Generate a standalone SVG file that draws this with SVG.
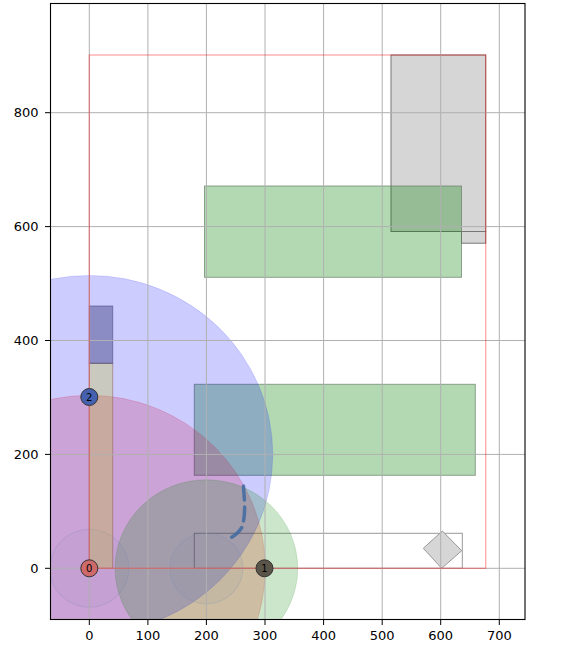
<svg xmlns="http://www.w3.org/2000/svg" width="561" height="653" viewBox="0 0 561 653">
<style>
.tick{font-family:"DejaVu Sans","Liberation Sans",sans-serif;font-size:13px;fill:#000}
.grid line{stroke:#b0b0b0;stroke-width:1}
.nl{font-family:"DejaVu Sans","Liberation Sans",sans-serif;font-size:10px;fill:#000;text-anchor:middle}
.node circle{stroke:#333;stroke-width:1}
.green{fill:rgb(0,128,0);fill-opacity:0.3;stroke:#6a7f6a;stroke-opacity:0.7;stroke-width:1}
.grayr{fill:#d6d6d6;stroke:#777;stroke-width:1}
</style>
<defs>
<clipPath id="ax"><rect x="50.5" y="3.5" width="474.5" height="616"/></clipPath>
</defs>
<rect width="561" height="653" fill="#fff"/>
<g clip-path="url(#ax)">
  <g id="obstacles">
    <rect id="grayA" class="grayr" x="391" y="55" width="94.7" height="176.5"/>
    <rect id="grayB" class="grayr" x="461.5" y="231.5" width="24.2" height="11.7"/>
    <rect id="greenTop" class="green" x="204.5" y="186" width="257" height="91.3"/>
    <rect id="greenMid" class="green" x="194.3" y="384.3" width="281" height="91"/>
    <rect id="outlineRect" x="194.3" y="533.3" width="268" height="35" fill="none" stroke="#999" stroke-width="1"/>
    <polygon id="diamond" points="442.3,531 461.7,550.7 441.7,568.3 423.3,548.3" fill="#d6d6d6" stroke="#999" stroke-width="1"/>
  </g>
  <g id="regions">
    <ellipse id="redCircle" cx="89.3" cy="568.3" rx="176" ry="173" fill="rgb(255,0,0)" fill-opacity="0.2" stroke="rgb(255,0,0)" stroke-opacity="0.15"/>
    <ellipse id="blueCircle" cx="89.3" cy="454.4" rx="183.5" ry="179" fill="rgb(0,0,255)" fill-opacity="0.2" stroke="rgb(0,0,255)" stroke-opacity="0.12"/>
    <ellipse id="greenCircle" cx="206.4" cy="568.3" rx="91.3" ry="88.5" fill="rgb(0,128,0)" fill-opacity="0.2" stroke="rgb(0,128,0)" stroke-opacity="0.15"/>
    <ellipse id="small0" cx="89.3" cy="568.3" rx="39.5" ry="39" fill="rgb(110,130,170)" fill-opacity="0.07" stroke="rgb(110,140,180)" stroke-opacity="0.25"/>
    <ellipse id="small1" cx="206.4" cy="568.3" rx="36.5" ry="35.5" fill="rgb(110,130,170)" fill-opacity="0.07" stroke="rgb(110,140,180)" stroke-opacity="0.25"/>
    <rect id="tallLow" x="89.3" y="363.3" width="23.4" height="205" fill="rgb(191,191,0)" fill-opacity="0.25" stroke="#8a5a50" stroke-opacity="0.5" stroke-width="1"/>
    <rect id="tallHigh" x="89.3" y="306" width="23.4" height="57.3" fill="rgb(45,45,110)" fill-opacity="0.4" stroke="#3a3a70" stroke-opacity="0.5" stroke-width="1"/>
  </g>
  <g class="grid">
    <line x1="89.3" y1="3.5" x2="89.3" y2="619.5"/>
    <line x1="147.9" y1="3.5" x2="147.9" y2="619.5"/>
    <line x1="206.4" y1="3.5" x2="206.4" y2="619.5"/>
    <line x1="265" y1="3.5" x2="265" y2="619.5"/>
    <line x1="323.6" y1="3.5" x2="323.6" y2="619.5"/>
    <line x1="382.2" y1="3.5" x2="382.2" y2="619.5"/>
    <line x1="440.7" y1="3.5" x2="440.7" y2="619.5"/>
    <line x1="499.3" y1="3.5" x2="499.3" y2="619.5"/>
    <line x1="50.5" y1="568.3" x2="525" y2="568.3"/>
    <line x1="50.5" y1="454.4" x2="525" y2="454.4"/>
    <line x1="50.5" y1="340.5" x2="525" y2="340.5"/>
    <line x1="50.5" y1="226.6" x2="525" y2="226.6"/>
    <line x1="50.5" y1="112.7" x2="525" y2="112.7"/>
  </g>
  <g id="connectors">
    <rect id="boundary" x="89.3" y="55" width="396.4" height="513.3" fill="none" stroke="rgb(255,0,0)" stroke-opacity="0.35" stroke-width="1.3"/>
    <path id="arc" d="M243.5,486 C244,498 246.5,513 242,527 C239,533 233,537 226,540" fill="none" stroke="#3d6aa0" stroke-opacity="0.85" stroke-width="3.5" stroke-dasharray="14,7" stroke-linecap="round"/>
  </g>
  <g id="node0" class="node"><circle cx="89.3" cy="568.3" r="8.5" fill="#cf6a6a"/><text class="nl" x="89.3" y="572">0</text></g>
  <g id="node1" class="node"><circle cx="264.5" cy="568.3" r="8.5" fill="#5a5548"/><text class="nl" x="264.5" y="572">1</text></g>
  <g id="node2" class="node"><circle cx="89.3" cy="397" r="8.5" fill="#4660b0"/><text class="nl" x="89.3" y="400.7">2</text></g>
</g>
<rect x="50.5" y="3.5" width="474.5" height="616" fill="none" stroke="#000" stroke-width="1.1"/>
<g id="yticks" stroke="#000" stroke-width="1">
  <line x1="45" y1="568.3" x2="50.5" y2="568.3"/>
  <line x1="45" y1="454.4" x2="50.5" y2="454.4"/>
  <line x1="45" y1="340.5" x2="50.5" y2="340.5"/>
  <line x1="45" y1="226.6" x2="50.5" y2="226.6"/>
  <line x1="45" y1="112.7" x2="50.5" y2="112.7"/>
</g>
<g id="xticks" stroke="#000" stroke-width="1">
  <line x1="89.3" y1="619.5" x2="89.3" y2="625"/>
  <line x1="147.9" y1="619.5" x2="147.9" y2="625"/>
  <line x1="206.4" y1="619.5" x2="206.4" y2="625"/>
  <line x1="265" y1="619.5" x2="265" y2="625"/>
  <line x1="323.6" y1="619.5" x2="323.6" y2="625"/>
  <line x1="382.2" y1="619.5" x2="382.2" y2="625"/>
  <line x1="440.7" y1="619.5" x2="440.7" y2="625"/>
  <line x1="499.3" y1="619.5" x2="499.3" y2="625"/>
</g>
<g id="ylabels" class="tick" text-anchor="end">
  <text class="tick" x="38.5" y="573">0</text>
  <text class="tick" x="38.5" y="459.1">200</text>
  <text class="tick" x="38.5" y="345.2">400</text>
  <text class="tick" x="38.5" y="231.3">600</text>
  <text class="tick" x="38.5" y="117.4">800</text>
</g>
<g id="xlabels" text-anchor="middle">
  <text class="tick" x="89.3" y="640">0</text>
  <text class="tick" x="147.9" y="640">100</text>
  <text class="tick" x="206.4" y="640">200</text>
  <text class="tick" x="265" y="640">300</text>
  <text class="tick" x="323.6" y="640">400</text>
  <text class="tick" x="382.2" y="640">500</text>
  <text class="tick" x="440.7" y="640">600</text>
  <text class="tick" x="499.3" y="640">700</text>
</g>
</svg>
